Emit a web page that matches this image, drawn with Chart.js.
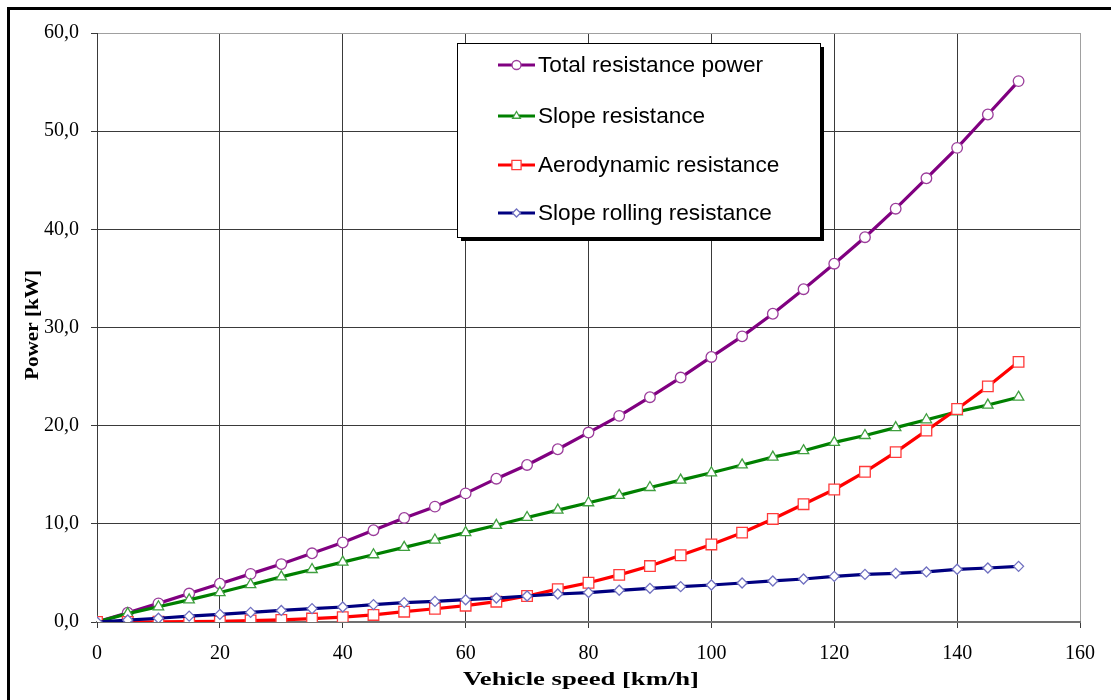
<!DOCTYPE html>
<html>
<head>
<meta charset="utf-8">
<script src="https://cdn.jsdelivr.net/npm/chart.js@4/dist/chart.umd.min.js"></script>
<style>
html,body{margin:0;padding:0;background:#fff;}
canvas{display:block;}
</style>
</head>
<body>
<canvas id="c" width="1111" height="700"></canvas>
<script>
const speed = [0,5,10,15,20,25,30,35,40,45,50,55,60,65,70,75,80,85,90,95,100,105,110,115,120,125,130,135,140,145,150];
const totalPower = [0,0.95,1.9,2.9,3.9,4.9,5.9,7.0,8.1,9.35,10.6,11.75,13.1,14.6,16.0,17.6,19.3,21.0,22.9,24.9,27.0,29.1,31.4,33.9,36.5,39.2,42.1,45.2,48.3,51.7,55.1];
const slopeRes = [0,0.85,1.55,2.25,3.0,3.8,4.6,5.35,6.1,6.85,7.6,8.35,9.1,9.85,10.65,11.4,12.15,12.9,13.7,14.45,15.2,16.0,16.8,17.45,18.3,19.0,19.8,20.6,21.4,22.1,22.9];
const aeroRes = [0,0.0,0.02,0.05,0.07,0.15,0.22,0.35,0.5,0.72,1.05,1.35,1.66,2.07,2.65,3.35,4.0,4.8,5.7,6.8,7.9,9.1,10.5,12.0,13.5,15.3,17.3,19.5,21.7,24.0,26.5];
const rollingRes = [0,0.2,0.38,0.6,0.78,0.98,1.18,1.36,1.53,1.77,1.97,2.1,2.27,2.44,2.65,2.85,3.0,3.23,3.43,3.6,3.77,3.97,4.18,4.38,4.65,4.85,4.96,5.1,5.37,5.5,5.67];
const seriesNames = ['Total resistance power','Slope resistance','Aerodynamic resistance','Slope rolling resistance'];
const xTitle = 'Vehicle speed [km/h]';
const yTitle = 'Power [kW]';

function pts(arr){ return speed.map((s,i)=>({x:s,y:arr[i]})); }

const styles = [
  {color:'#800080', mark:'#9b3d9b', shape:'circle', r:5.3, order:4},
  {color:'#008000', mark:'#3f9f3f', shape:'triangle', r:6, order:3},
  {color:'#ff0000', mark:'#ff3b3b', shape:'rect', r:7.5, order:2},
  {color:'#000080', mark:'#7070c0', shape:'rectRot', r:5, order:1}
];
const allData = [totalPower, slopeRes, aeroRes, rollingRes];

const datasets = allData.map((d,i)=>({
  label: seriesNames[i],
  data: pts(d),
  borderColor: styles[i].color,
  backgroundColor: '#ffffff',
  borderWidth: 3.2,
  pointStyle: styles[i].shape,
  pointRadius: styles[i].r,
  pointBorderColor: styles[i].mark,
  pointBackgroundColor: '#ffffff',
  pointBorderWidth: 1.3,
  tension: 0,
  order: styles[i].order
}));

function drawMarker(ctx, shape, x, y, r){
  ctx.beginPath();
  if(shape==='circle'){ ctx.arc(x,y,r,0,Math.PI*2); }
  else if(shape==='triangle'){
    ctx.moveTo(x, y-r);
    ctx.lineTo(x + r*Math.sin(Math.PI*2/3), y - r*Math.cos(Math.PI*2/3));
    ctx.lineTo(x - r*Math.sin(Math.PI*2/3), y - r*Math.cos(Math.PI*2/3));
    ctx.closePath();
  } else if(shape==='rect'){
    const s = Math.SQRT1_2*r; ctx.rect(x-s,y-s,2*s,2*s);
  } else if(shape==='rectRot'){
    ctx.moveTo(x-r,y); ctx.lineTo(x,y-r); ctx.lineTo(x+r,y); ctx.lineTo(x,y+r); ctx.closePath();
  }
  ctx.fill(); ctx.stroke();
}

function fitText(ctx, text, cx, cy, targetW, align){
  const w = ctx.measureText(text).width;
  const sx = targetW / w;
  ctx.save();
  ctx.translate(cx, cy);
  ctx.scale(sx, 1);
  ctx.textAlign = align || 'center';
  ctx.fillText(text, 0, 0);
  ctx.restore();
  return sx;
}

const framePlugin = {
  id:'frame',
  beforeDraw(chart){
    const ctx = chart.ctx;
    ctx.save();
    ctx.fillStyle='#fff'; ctx.fillRect(0,0,chart.width,chart.height);
    ctx.strokeStyle='#000'; ctx.lineWidth=3;
    ctx.beginPath();
    ctx.moveTo(8.5, chart.height+5); ctx.lineTo(8.5,8.5); ctx.lineTo(chart.width+5,8.5);
    ctx.stroke();
    ctx.restore();
  },
  afterDraw(chart){
    const ctx = chart.ctx;
    ctx.save();
    // axis titles
    ctx.fillStyle='#000';
    ctx.font='bold 19px "Liberation Serif", "Times New Roman", serif';
    ctx.textBaseline='middle';
    fitText(ctx, xTitle, 581, 680, 236, 'center');
    ctx.save();
    ctx.translate(33, 325);
    ctx.rotate(-Math.PI/2);
    fitText(ctx, yTitle, 0, 0, 110, 'center');
    ctx.restore();
    ctx.restore();

    // legend box
    ctx.save();
    const bx=457, by=43, bw=363, bh=194;
    ctx.fillStyle='#000';
    ctx.fillRect(bx+4, by+4, bw, bh);
    ctx.fillStyle='#fff';
    ctx.fillRect(bx, by, bw, bh);
    ctx.strokeStyle='#000'; ctx.lineWidth=1;
    ctx.strokeRect(bx+0.5, by+0.5, bw, bh);
    const rows=[65,116,165,213];
    ctx.font='22px "Liberation Sans", Arial, sans-serif';
    ctx.textBaseline='middle';
    const sx = 225 / ctx.measureText(seriesNames[0]).width;
    chart.data.datasets.forEach((ds,i)=>{
      const y=rows[i];
      ctx.strokeStyle=ds.borderColor; ctx.lineWidth=3;
      ctx.beginPath(); ctx.moveTo(498,y); ctx.lineTo(535,y); ctx.stroke();
      ctx.fillStyle='#fff'; ctx.strokeStyle=ds.pointBorderColor; ctx.lineWidth=1.3;
      const r = styles[i].shape==='rect'?6.5:(styles[i].shape==='rectRot'?4:4.5);
      drawMarker(ctx, styles[i].shape, 516.5, y, r);
      ctx.fillStyle='#000';
      ctx.save();
      ctx.translate(538, y+1);
      ctx.scale(sx,1);
      ctx.textAlign='left';
      ctx.fillText(ds.label, 0, 0);
      ctx.restore();
    });
    ctx.restore();
  }
};

const tickFont = {family:'"Liberation Serif", "Times New Roman", serif', size:20};

new Chart(document.getElementById('c'), {
  type:'line',
  data:{datasets},
  options:{
    responsive:false,
    animation:false,
    devicePixelRatio:1,
    layout:{padding:{left:0, top:33, right:31, bottom:0}},
    plugins:{legend:{display:false}, tooltip:{enabled:false}},
    scales:{
      x:{
        type:'linear', min:0, max:160,
        ticks:{stepSize:20, font:tickFont, color:'#000', padding:14, maxRotation:0},
        grid:{
          color:(c)=> c.index===8 ? '#a0a0a0' : '#3a3a3a',
          lineWidth:1, tickLength:6, drawTicks:true,
          tickColor:'#3a3a3a'
        },
        border:{display:true, color:'#707070', width:2},
        afterFit(s){ s.height = 78; }
      },
      y:{
        min:0, max:60,
        ticks:{stepSize:10, font:tickFont, color:'#000', padding:12,
          callback:(v)=> v.toFixed(1).replace('.', ',')},
        grid:{
          color:(c)=> c.index===6 ? '#a0a0a0' : '#3a3a3a',
          lineWidth:1, tickLength:6, drawTicks:true, tickColor:'#3a3a3a'
        },
        border:{display:true, color:'#3a3a3a', width:1},
        afterFit(s){ s.width = 97; }
      }
    }
  },
  plugins:[framePlugin]
});
</script>
</body>
</html>
